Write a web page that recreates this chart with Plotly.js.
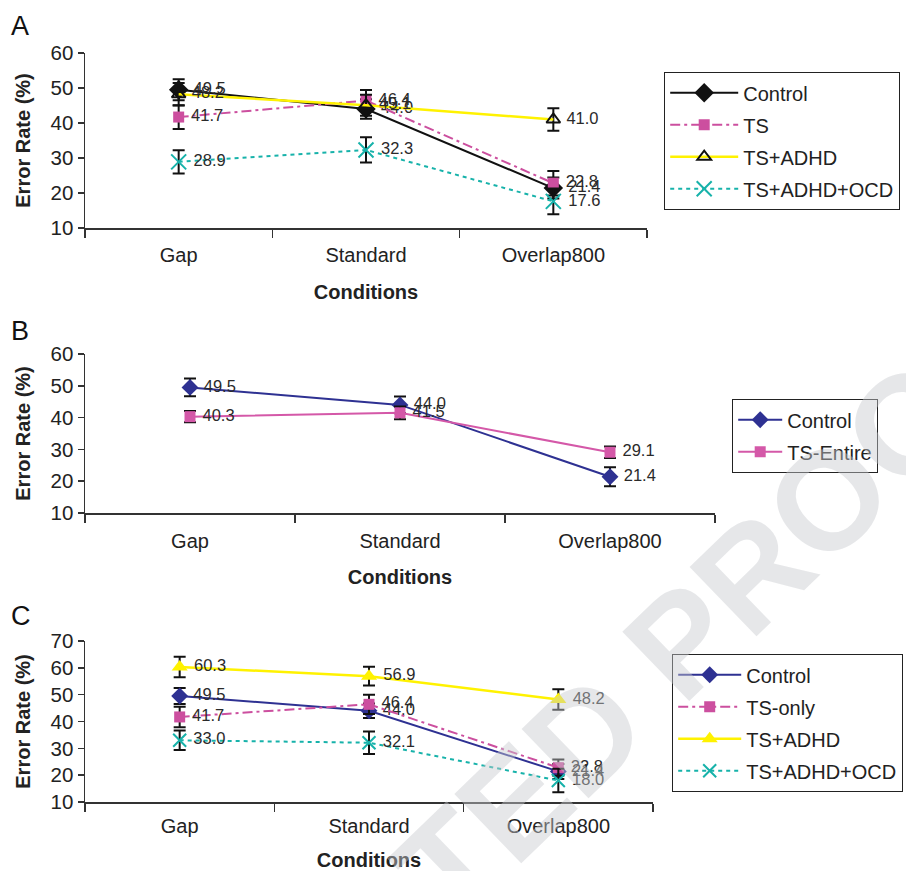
<!DOCTYPE html>
<html><head><meta charset="utf-8">
<script src="https://cdn.plot.ly/plotly-3.0.1.min.js"></script>
<style>html,body{margin:0;padding:0;background:#fff}#chart{width:906px;height:871px}</style>
</head><body><div id="chart"></div>
<script>
// ---------- data ----------
const categories = ['Gap', 'Standard', 'Overlap800'];

// Panel A
const aControl = [49.5, 44.0, 21.4];
const aControlErr = [3.0, 2.8, 3.0];
const aTS = [41.7, 46.4, 22.8];
const aTSErr = [3.4, 3.0, 3.5];
const aTSADHD = [48.2, 45.1, 41.0];
const aTSADHDErr = [3.2, 3.0, 3.2];
const aTSADHDOCD = [28.9, 32.3, 17.6];
const aTSADHDOCDErr = [3.3, 3.6, 3.7];

// Panel B
const bControl = [49.5, 44.0, 21.4];
const bControlErr = [2.8, 2.6, 3.0];
const bTSEntire = [40.3, 41.5, 29.1];
const bTSEntireErr = [1.8, 2.0, 1.8];

// Panel C
const cControl = [49.5, 44.0, 21.4];
const cControlErr = [3.0, 2.7, 2.8];
const cTSOnly = [41.7, 46.4, 22.8];
const cTSOnlyErr = [3.8, 3.6, 3.0];
const cTSADHD = [60.3, 56.9, 48.2];
const cTSADHDErr = [3.8, 3.5, 3.8];
const cTSADHDOCD = [33.0, 32.1, 18.0];
const cTSADHDOCDErr = [3.6, 4.2, 4.4];

// ---------- styling ----------
const FONT = 'Liberation Sans, Arial, sans-serif';
const BLACK = '#111111', PINK = '#CC4F9F', PINK_B = '#D458A8', YELLOW = '#FFF200', TEAL = '#17B2AA', NAVY = '#2E3192';

function series(y, err, name, xa, ya, legend, lineStyle, marker) {
  return {
    type: 'scatter', mode: 'lines+markers+text',
    x: categories, y: y, name: name,
    xaxis: xa, yaxis: ya, legend: legend, legendgroup: legend + name,
    text: y.map(v => ' ' + v.toFixed(1)), textposition: 'middle right',
    textfont: {family: FONT, size: 16.5, color: '#2a2a2a'},
    cliponaxis: false,
    line: lineStyle, marker: marker,
    error_y: {type: 'data', array: err, visible: true, color: '#111', thickness: 2, width: 6}
  };
}

const DASHDOT = '10px,4px,3px,4px';
const DOT = '4px,4px';

const traces = [
  // A
  series(aControl, aControlErr, 'Control', 'x', 'y', 'legend', {color: BLACK, width: 2}, {symbol: 'diamond', size: 15, color: BLACK}),
  series(aTS, aTSErr, 'TS', 'x', 'y', 'legend', {color: PINK, width: 2, dash: DASHDOT}, {symbol: 'square', size: 11, color: PINK}),
  series(aTSADHD, aTSADHDErr, 'TS+ADHD', 'x', 'y', 'legend', {color: YELLOW, width: 2.5}, {symbol: 'triangle-up-open', size: 12, color: BLACK, line: {width: 2, color: BLACK}}),
  series(aTSADHDOCD, aTSADHDOCDErr, 'TS+ADHD+OCD', 'x', 'y', 'legend', {color: TEAL, width: 2, dash: DOT}, {symbol: 'x-thin-open', size: 15, color: TEAL, line: {width: 2, color: TEAL}}),
  // B
  series(bControl, bControlErr, 'Control', 'x2', 'y2', 'legend2', {color: NAVY, width: 2}, {symbol: 'diamond', size: 13, color: NAVY}),
  series(bTSEntire, bTSEntireErr, 'TS-Entire', 'x2', 'y2', 'legend2', {color: PINK_B, width: 2}, {symbol: 'square', size: 11, color: PINK_B}),
  // C
  series(cControl, cControlErr, 'Control', 'x3', 'y3', 'legend3', {color: NAVY, width: 2}, {symbol: 'diamond', size: 13, color: NAVY}),
  series(cTSOnly, cTSOnlyErr, 'TS-only', 'x3', 'y3', 'legend3', {color: PINK, width: 2, dash: DASHDOT}, {symbol: 'square', size: 11, color: PINK}),
  series(cTSADHD, cTSADHDErr, 'TS+ADHD', 'x3', 'y3', 'legend3', {color: YELLOW, width: 2.5}, {symbol: 'triangle-up', size: 14, color: YELLOW}),
  series(cTSADHDOCD, cTSADHDOCDErr, 'TS+ADHD+OCD', 'x3', 'y3', 'legend3', {color: TEAL, width: 2, dash: DOT}, {symbol: 'x-thin-open', size: 13, color: TEAL, line: {width: 2, color: TEAL}})
];

const W = 906, H = 871, ML = 85;
const px = v => (v - ML) / (W - ML);
const py = v => 1 - v / H;

function xax(x0, x1, labelGap, titleGap) {
  return {
    domain: [px(x0), px(x1)], type: 'category', range: [-0.5, 2.5],
    showline: true, linecolor: '#333', linewidth: 1.5,
    ticks: 'outside', tickson: 'boundaries', ticklen: 8, tickwidth: 1.5, tickcolor: '#333',
    ticklabelstandoff: labelGap,
    showgrid: false, zeroline: false, fixedrange: true,
    tickfont: {family: FONT, size: 20, color: '#222'},
    title: {text: '<b>Conditions</b>', font: {family: FONT, size: 20, color: '#222'}, standoff: titleGap}
  };
}
function yax(y0, y1, r, anchor) {
  return {
    domain: [py(y1), py(y0)], range: r, dtick: 10, tick0: 10, anchor: anchor,
    showline: true, linecolor: '#333', linewidth: 1.5,
    ticks: 'outside', ticklen: 6, tickwidth: 1.5, tickcolor: '#333',
    showgrid: false, zeroline: false, fixedrange: true,
    tickfont: {family: FONT, size: 20.5, color: '#222'},
    title: {text: '<b>Error Rate (%)</b>', font: {family: FONT, size: 20, color: '#222'}, standoff: 14}
  };
}
function leg(x, y, iw) {
  return {
    x: px(x), y: py(y), xanchor: 'left', yanchor: 'top', xref: 'paper', yref: 'paper',
    bordercolor: '#222', borderwidth: 1.2, bgcolor: 'rgba(255,255,255,0)',
    font: {family: FONT, size: 20, color: '#222'},
    itemwidth: iw, traceorder: 'grouped', tracegroupgap: 3, itemclick: false
  };
}

const layout = {
  width: W, height: H, margin: {l: ML, r: 0, t: 0, b: 0},
  paper_bgcolor: '#fff', plot_bgcolor: 'rgba(0,0,0,0)',
  font: {family: FONT, color: '#222'},
  xaxis: Object.assign(xax(85, 647, 8, 20), {anchor: 'y'}),
  yaxis: yax(53, 228, [10, 60], 'x'),
  xaxis2: Object.assign(xax(85, 715, 9, 19), {anchor: 'y2'}),
  yaxis2: yax(354, 513, [10, 60], 'x2'),
  xaxis3: Object.assign(xax(85, 653, 5, 17), {anchor: 'y3'}),
  yaxis3: yax(641, 802, [10, 70], 'x3'),
  legend: leg(664, 72, 68),
  legend2: leg(732, 399, 44),
  legend3: leg(672, 654, 63),
  annotations: [
    {text: 'UNCORRECTED PROOF', xref: 'paper', yref: 'paper', x: px(422), y: py(891), xanchor: 'center', yanchor: 'middle',
     textangle: -44, showarrow: false, font: {family: FONT, size: 140, color: 'rgba(200,202,206,0.45)', weight: 'bold'}},
    {text: 'A', xref: 'paper', yref: 'paper', x: px(9), y: py(9), xanchor: 'left', yanchor: 'top', showarrow: false, font: {family: FONT, size: 27, color: '#111'}},
    {text: 'B', xref: 'paper', yref: 'paper', x: px(9), y: py(314), xanchor: 'left', yanchor: 'top', showarrow: false, font: {family: FONT, size: 27, color: '#111'}},
    {text: 'C', xref: 'paper', yref: 'paper', x: px(9), y: py(599), xanchor: 'left', yanchor: 'top', showarrow: false, font: {family: FONT, size: 27, color: '#111'}}
  ]
};

Plotly.newPlot('chart', traces, layout, {displayModeBar: false, staticPlot: true});
</script>
</body></html>
